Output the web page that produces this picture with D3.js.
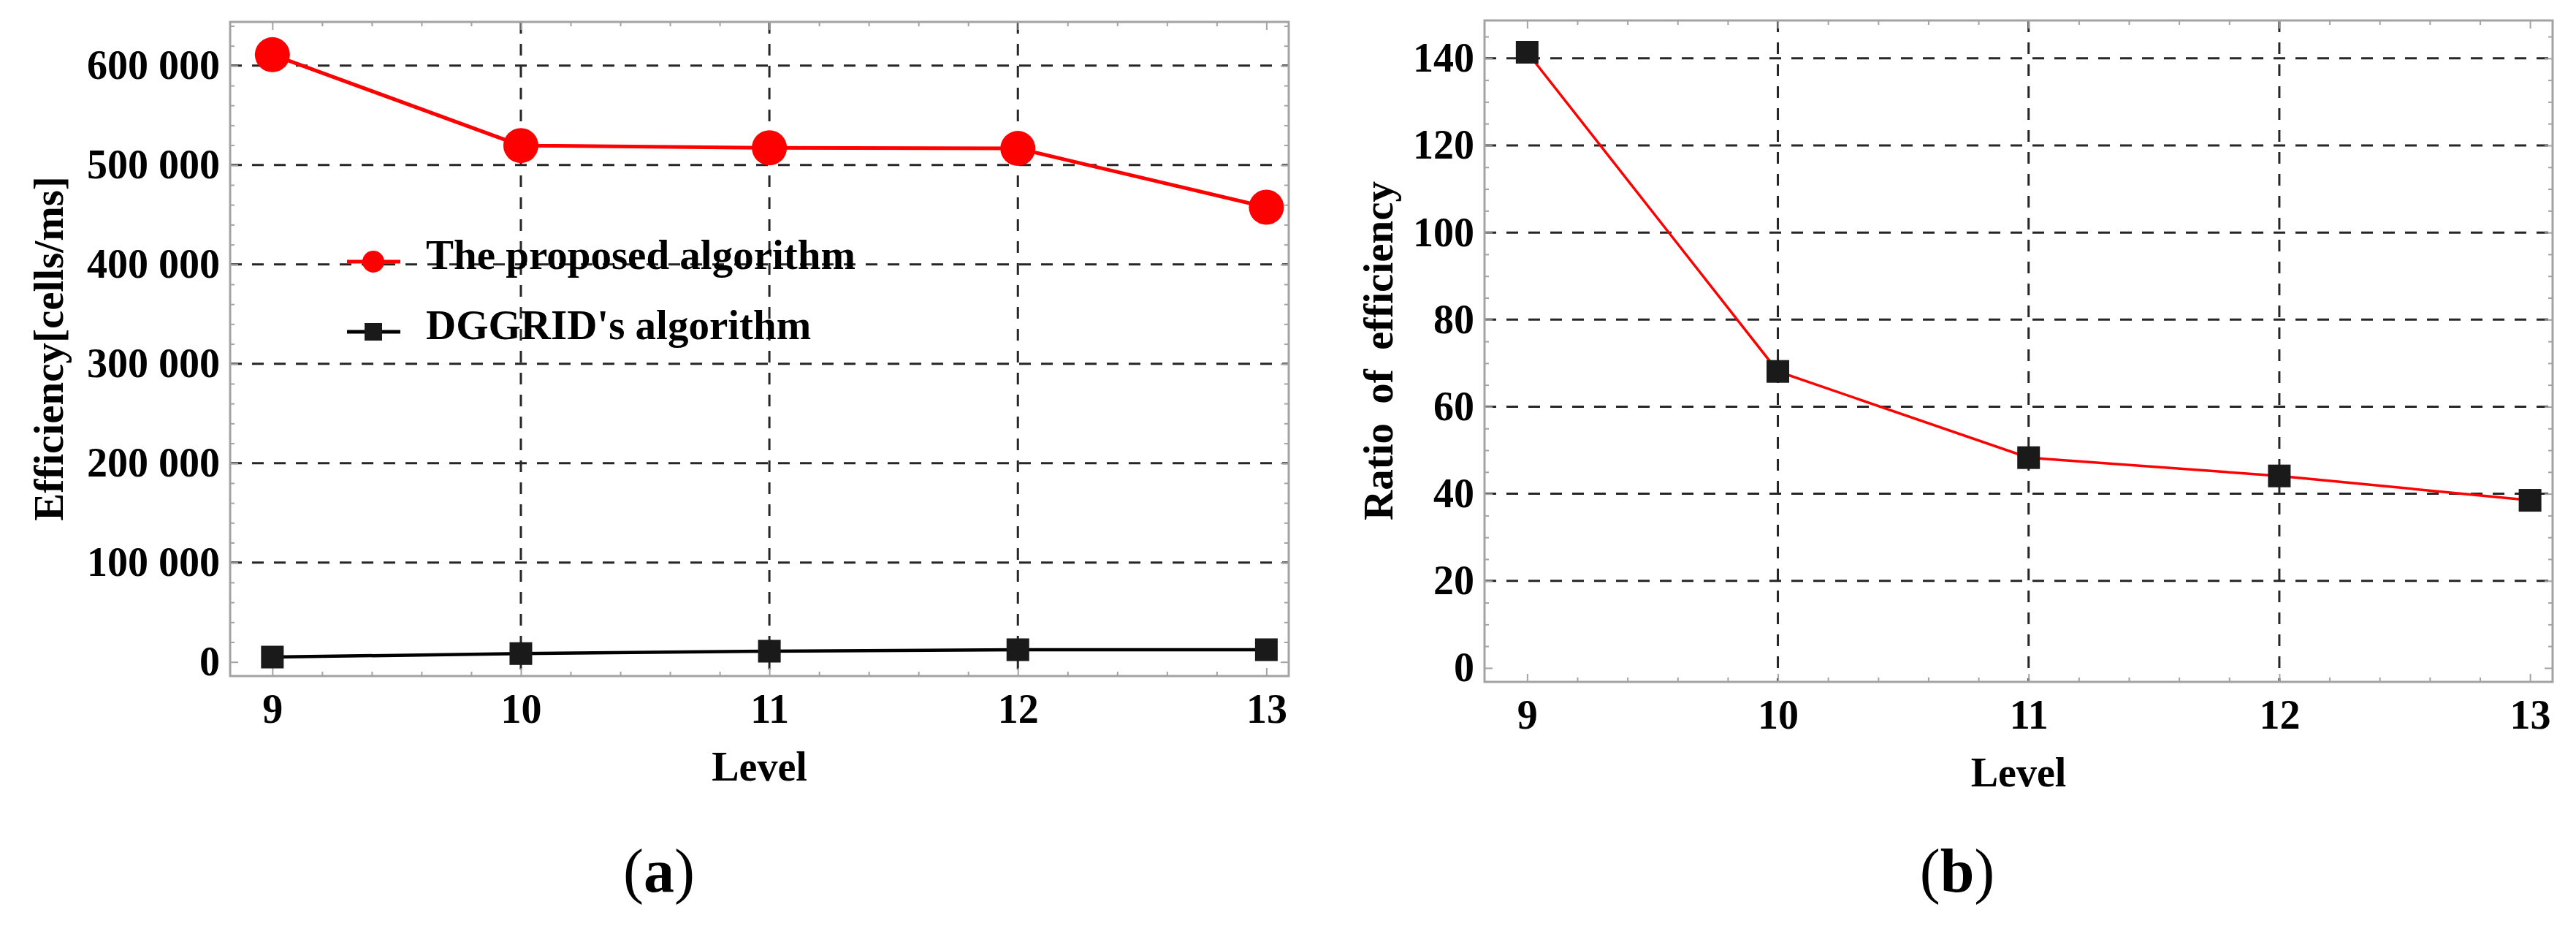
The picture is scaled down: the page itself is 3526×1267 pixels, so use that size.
<!DOCTYPE html>
<html>
<head>
<meta charset="utf-8">
<script src="https://cdn.jsdelivr.net/npm/d3@7"></script>
<style>
  body { margin: 0; background: #fff; }
  text { font-family: 'Liberation Serif', 'Times New Roman', serif; }
</style>
</head>
<body>
<script>
// data
var levels = [9, 10, 11, 12, 13];
var proposedEff = [611000, 519600, 517300, 516700, 457600];
var dggridEff = [4900, 8400, 10800, 12300, 12300];
var effRatio = [141.4, 68.1, 48.3, 44.1, 38.5];

var effTicks = [0, 100000, 200000, 300000, 400000, 500000, 600000];
var ratioTicks = [0, 20, 40, 60, 80, 100, 120, 140];
var gridLevels = [10, 11, 12];
var legendLabels = ['The proposed algorithm', "DGGRID's algorithm"];

// colours
var colRed = '#ff0000',
    colMark = '#1a1a1a',
    colFrame = '#a3a3a3',
    colGrid = '#262626';

var W = 3526, H = 1267;

var svg = d3.select('body')
    .append('svg')
    .attr('width', W)
    .attr('height', H);

svg.append('rect')
    .attr('width', W)
    .attr('height', H)
    .attr('fill', '#fff');

var fmtEff = function (d) { return d3.format(',')(d).replace(/,/g, ' '); };

// draws frame, ticks, grid and tick labels of one panel
function drawPanel(box, yDomain, yTicks, yMinorStep, fmt) {
    var x = d3.scaleLinear().domain([8.83, 13.09]).range([box.left, box.right]);
    var y = d3.scaleLinear().domain(yDomain).range([box.bottom, box.top]);
    var g = svg.append('g');

    // grid
    g.selectAll('.vgrid').data(gridLevels).enter().append('line')
        .attr('x1', function (d) { return x(d); })
        .attr('x2', function (d) { return x(d); })
        .attr('y1', box.top)
        .attr('y2', box.bottom)
        .attr('stroke', colGrid)
        .attr('stroke-width', 3)
        .attr('stroke-dasharray', '16,14');
    g.selectAll('.hgrid').data(yTicks.filter(function (d) { return d !== 0; })).enter().append('line')
        .attr('x1', box.left)
        .attr('x2', box.right)
        .attr('y1', function (d) { return y(d); })
        .attr('y2', function (d) { return y(d); })
        .attr('stroke', colGrid)
        .attr('stroke-width', 3)
        .attr('stroke-dasharray', '16,14');

    var minorX = d3.range(8.8, 13.2, 0.2).filter(function (d) {
        return d > 8.83 && d < 13.09 && Math.abs(d - Math.round(d)) > 0.01;
    });
    var yd = y.domain();
    var minorY = d3.range(Math.ceil(yd[0] / yMinorStep) * yMinorStep, yd[1], yMinorStep).filter(function (d) {
        return yTicks.indexOf(d) < 0;
    });

    // ticks on all four sides, pointing inward
    var axes = [
        [d3.axisBottom(x), box.bottom, 'x', levels, minorX],
        [d3.axisTop(x), box.top, 'x', levels, minorX],
        [d3.axisLeft(y), box.left, 'y', yTicks, minorY],
        [d3.axisRight(y), box.right, 'y', yTicks, minorY]
    ];
    axes.forEach(function (a, i) {
        var tr = a[2] === 'x' ? 'translate(0,' + a[1] + ')' : 'translate(' + a[1] + ',0)';
        g.append('g').attr('transform', tr)
            .call(a[0].tickValues(a[4]).tickFormat('').tickSize(-6).tickSizeOuter(0))
            .call(function (s) {
                s.select('.domain').remove();
                s.selectAll('line').attr('stroke', colFrame).attr('stroke-width', 2);
            });
        var showLabels = i === 0 || i === 2;
        var major = g.append('g').attr('transform', tr)
            .call(a[0].tickValues(a[3]).tickSize(-11).tickSizeOuter(0)
                .tickPadding(i === 0 ? 24 : 14)
                .tickFormat(showLabels ? (i === 0 ? d3.format('d') : fmt) : ''));
        major.select('.domain').remove();
        major.selectAll('line').attr('stroke', colFrame).attr('stroke-width', 2);
        major.attr('font-family', null).attr('font-size', null);
        major.selectAll('text')
            .attr('fill', '#000')
            .attr('font-size', 56)
            .attr('font-weight', 'bold');
    });

    // frame
    g.append('rect')
        .attr('x', box.left)
        .attr('y', box.top)
        .attr('width', box.right - box.left)
        .attr('height', box.bottom - box.top)
        .attr('fill', 'none')
        .attr('stroke', colFrame)
        .attr('stroke-width', 3);

    // x title
    g.append('text')
        .attr('x', (box.left + box.right) / 2)
        .attr('y', box.bottom + 143)
        .attr('text-anchor', 'middle')
        .attr('font-size', 56)
        .attr('font-weight', 'bold')
        .text('Level');

    return { x: x, y: y, g: g };
}

function caption(cx, letter) {
    var t = svg.append('text')
        .attr('x', cx)
        .attr('y', 1220)
        .attr('text-anchor', 'middle')
        .attr('font-size', 84);
    t.append('tspan').text('(');
    t.append('tspan').attr('font-weight', 'bold').text(letter);
    t.append('tspan').text(')');
}

// ---------- panel (a)
var pa = drawPanel({ left: 315, right: 1764, top: 30, bottom: 925 },
    [-14200, 644000], effTicks, 20000, fmtEff);

var lineA = d3.line()
    .x(function (d, i) { return pa.x(levels[i]); })
    .y(function (d) { return pa.y(d); });

pa.g.append('path').datum(dggridEff)
    .attr('d', lineA)
    .attr('fill', 'none')
    .attr('stroke', '#000')
    .attr('stroke-width', 4.5);
pa.g.selectAll('.sqA').data(dggridEff).enter().append('rect')
    .attr('x', function (d, i) { return pa.x(levels[i]) - 15.5; })
    .attr('y', function (d) { return pa.y(d) - 15.5; })
    .attr('width', 31)
    .attr('height', 31)
    .attr('fill', colMark);

pa.g.append('path').datum(proposedEff)
    .attr('d', lineA)
    .attr('fill', 'none')
    .attr('stroke', colRed)
    .attr('stroke-width', 5);
pa.g.selectAll('.dotA').data(proposedEff).enter().append('circle')
    .attr('cx', function (d, i) { return pa.x(levels[i]); })
    .attr('cy', function (d) { return pa.y(d); })
    .attr('r', 24)
    .attr('fill', colRed);

// legend
var leg = pa.g.selectAll('.leg').data(legendLabels).enter().append('g')
    .attr('transform', function (d, i) { return 'translate(475,' + (358 + i * 96) + ')'; });
leg.append('line')
    .attr('x1', 0).attr('x2', 73)
    .attr('stroke', function (d, i) { return i === 0 ? colRed : '#000'; })
    .attr('stroke-width', 5);
leg.filter(function (d, i) { return i === 0; }).append('circle')
    .attr('cx', 36).attr('r', 15).attr('fill', colRed);
leg.filter(function (d, i) { return i === 1; }).append('rect')
    .attr('x', 24).attr('y', -12).attr('width', 24).attr('height', 24).attr('fill', colMark);
leg.append('text')
    .attr('x', 108)
    .attr('y', 10)
    .attr('font-size', 57)
    .attr('font-weight', 'bold')
    .text(function (d) { return d; });

// y title
svg.append('text')
    .attr('transform', 'translate(86,477) rotate(-90)')
    .attr('text-anchor', 'middle')
    .attr('font-size', 57)
    .attr('font-weight', 'bold')
    .text('Efficiency[cells/ms]');

caption(902, 'a');

// ---------- panel (b)
var pb = drawPanel({ left: 2032, right: 3494, top: 28, bottom: 933 },
    [-3.2, 148.7], ratioTicks, 5, d3.format('d'));

var lineB = d3.line()
    .x(function (d, i) { return pb.x(levels[i]); })
    .y(function (d) { return pb.y(d); });

pb.g.append('path').datum(effRatio)
    .attr('d', lineB)
    .attr('fill', 'none')
    .attr('stroke', colRed)
    .attr('stroke-width', 3.5);
pb.g.selectAll('.sqB').data(effRatio).enter().append('rect')
    .attr('x', function (d, i) { return pb.x(levels[i]) - 15.5; })
    .attr('y', function (d) { return pb.y(d) - 15.5; })
    .attr('width', 31)
    .attr('height', 31)
    .attr('fill', colMark);

svg.append('text')
    .attr('transform', 'translate(1906,480) rotate(-90)')
    .attr('text-anchor', 'middle')
    .attr('font-size', 57)
    .attr('font-weight', 'bold')
    .attr('word-spacing', 12)
    .text('Ratio of efficiency');

caption(2679, 'b');
</script>
</body>
</html>
